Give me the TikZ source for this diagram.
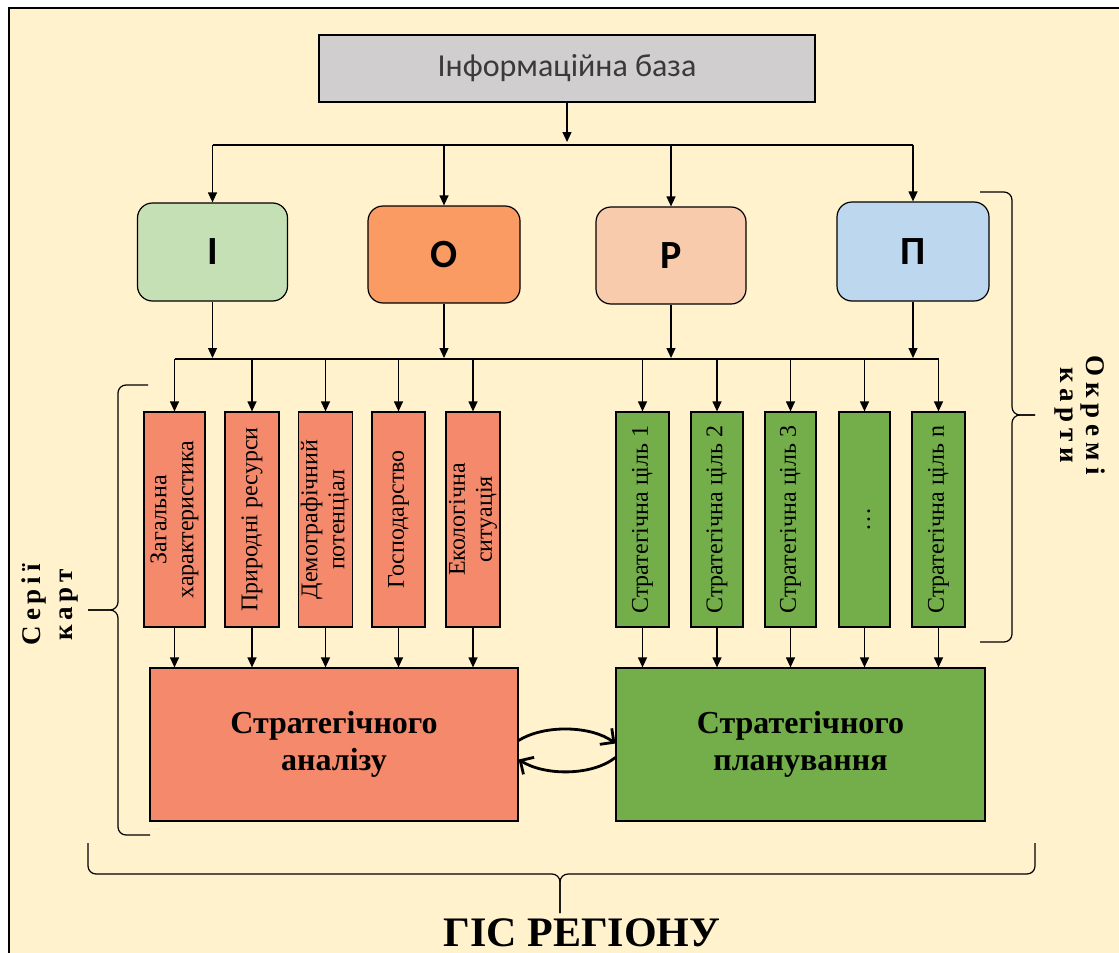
\documentclass[tikz,border=0pt]{standalone}
\usepackage{graphicx}
\usepackage{fontspec}
\setmainfont{Liberation Serif}
\newfontfamily\calib{Carlito}
\newfontfamily\spacedA[LetterSpace=18]{Liberation Serif}
\newfontfamily\spacedB[LetterSpace=22]{Liberation Serif}
\usetikzlibrary{arrows.meta}
\definecolor{cream}{HTML}{FFF2CC}
\definecolor{grayfill}{HTML}{D0CECE}
\definecolor{ifill}{HTML}{C5E0B4}
\definecolor{ofill}{HTML}{F99B62}
\definecolor{pfill}{HTML}{F8CBAD}
\definecolor{pifill}{HTML}{BDD7EE}
\definecolor{rfill}{HTML}{F4896C}
\definecolor{gfill}{HTML}{73AE4A}
\definecolor{txtgray}{HTML}{3A3A3A}
\newcommand{\vtext}[1]{\rotatebox{90}{\begin{tabular}{@{}c@{}}#1\end{tabular}}}
\begin{document}
\begin{tikzpicture}[x=1pt,y=-1pt,
  ln/.style={line width=1.2pt},
  arr/.style={line width=1.2pt,-{Triangle[length=10pt,width=9pt]}},
  brc/.style={line width=1.2pt,rounded corners=8pt},
  cyc/.style={line width=2.8pt,-{Straight Barb[length=10pt,width=20pt]}},
  letbox/.style={draw,line width=1.2pt,rounded corners=15pt,inner sep=0pt,
     font=\calib\bfseries\fontsize{40}{44}\selectfont},
  colbox/.style={draw,line width=1.2pt,inner sep=0pt,minimum height=215,
     font=\fontsize{24}{27}\selectfont},
  bigbox/.style={draw,line width=1.2pt,inner sep=0pt,minimum width=368,minimum height=153,
     align=center,font=\bfseries\fontsize{32}{37}\selectfont},
  side/.style={align=center,inner sep=0pt}
]
\useasboundingbox (0,0) rectangle (1119,953);
\clip (0,0) rectangle (1119,953);
\fill[white] (0,0) rectangle (1119,953);
\draw[fill=cream,line width=1.6pt] (9,8) rectangle (1140,975);

% top box
\node[draw,line width=1.2pt,fill=grayfill,minimum width=496,minimum height=67,inner sep=0pt,
  text=txtgray,font=\calib\fontsize{32}{36}\selectfont] (G) at (567,68.5) {Інформаційна база};

% letter boxes
\node[letbox,fill=ifill,minimum width=150,minimum height=98] (I) at (212.5,252) {І};
\node[letbox,fill=ofill,minimum width=152,minimum height=97] (O) at (444,254.5) {О};
\node[letbox,fill=pfill,minimum width=150,minimum height=97] (R) at (671,255.5) {Р};
\node[letbox,fill=pifill,minimum width=152,minimum height=99] (P) at (913,251.5) {П};

\coordinate (hl) at (567,145);
\coordinate (gtip) at (567,142);
\coordinate (ll) at (567,359);

\draw[arr] (G.south) -- (gtip);
\draw[ln] (I.north |- hl) -- (P.north |- hl);
\foreach \n in {I,O,R,P} \draw[arr] (\n.north |- hl) -- (\n.north);

% column boxes
\node[colbox,fill=rfill,minimum width=61] (r1) at (174.5,519.5) {\vtext{Загальна\\характеристика}};
\node[colbox,fill=rfill,minimum width=54] (r2) at (252,519.5) {\vtext{Природні ресурси}};
\node[colbox,fill=rfill,minimum width=53] (r3) at (325.5,519.5) {\vtext{Демографічний\\потенціал}};
\node[colbox,fill=rfill,minimum width=53] (r4) at (398.5,519.5) {\vtext{Господарство}};
\node[colbox,fill=rfill,minimum width=52] (r5) at (473,519.5) {\vtext{Екологічна\\ситуація}};
\node[colbox,fill=gfill,minimum width=53] (g1) at (642.5,519.5) {\vtext{Стратегічна ціль 1}};
\node[colbox,fill=gfill,minimum width=52] (g2) at (717,519.5) {\vtext{Стратегічна ціль 2}};
\node[colbox,fill=gfill,minimum width=51] (g3) at (790.5,519.5) {\vtext{Стратегічна ціль 3}};
\node[colbox,fill=gfill,minimum width=51] (g4) at (864.5,519.5) {\vtext{…}};
\node[colbox,fill=gfill,minimum width=53] (g5) at (938.5,519.5) {\vtext{Стратегічна ціль n}};

\foreach \n in {I,O,R,P} \draw[arr] (\n.south) -- ([yshift=1pt]\n.south |- ll);
\draw[ln] (r1.north |- ll) -- (g5.north |- ll);
\foreach \n in {r1,r2,r3,r4,r5,g1,g2,g3,g4,g5} \draw[arr] (\n.north |- ll) -- (\n.north);

% big boxes
\node[bigbox,fill=rfill] (A) at (334,744.5) {Стратегічного\\аналізу};
\node[bigbox,fill=gfill,minimum width=369] (B) at (800.5,744.5) {Стратегічного\\планування};

\foreach \n in {r1,r2,r3,r4,r5} \draw[arr] (\n.south) -- (\n.south |- A.north);
\foreach \n in {g1,g2,g3,g4,g5} \draw[arr] (\n.south) -- (\n.south |- B.north);

% cycle arrows
\draw[cyc] ([yshift=4pt]A.east) .. controls (545,724) and (592,726) .. ([yshift=1pt]B.west);
\draw[cyc] ([yshift=-13pt]B.west) .. controls (592,776) and (545,776) .. ([yshift=-15pt]A.east);

% braces
\draw[brc] (148,385) -- (118,385) -- (118,610) -- (88,610);
\draw[brc] (88,610) -- (118,610) -- (118,835) -- (150,835);
\draw[brc] (980,192) -- (1012,192) -- (1012,415) -- (1035,415);
\draw[brc] (1035,415) -- (1012,415) -- (1012,642) -- (980,642);
\draw[brc] (88,843) -- (88,874) -- (560,874) -- (560,913);
\draw[brc] (1035,843) -- (1035,874) -- (560,874) -- (560,913);

% side labels
\node[side,rotate=90,font=\spacedA\bfseries\fontsize{27}{32}\selectfont] (sk) at (50,605) {Серії\\карт};
\node[side,rotate=-90,font=\spacedB\bfseries\fontsize{27}{26}\selectfont] (ok) at (1080,415) {Окремі\\карти};
\node[anchor=base,inner sep=0pt,font=\bfseries\fontsize{42}{46}\selectfont] (gis) at (582,946) {ГІС РЕГІОНУ};
\end{tikzpicture}
\end{document}
